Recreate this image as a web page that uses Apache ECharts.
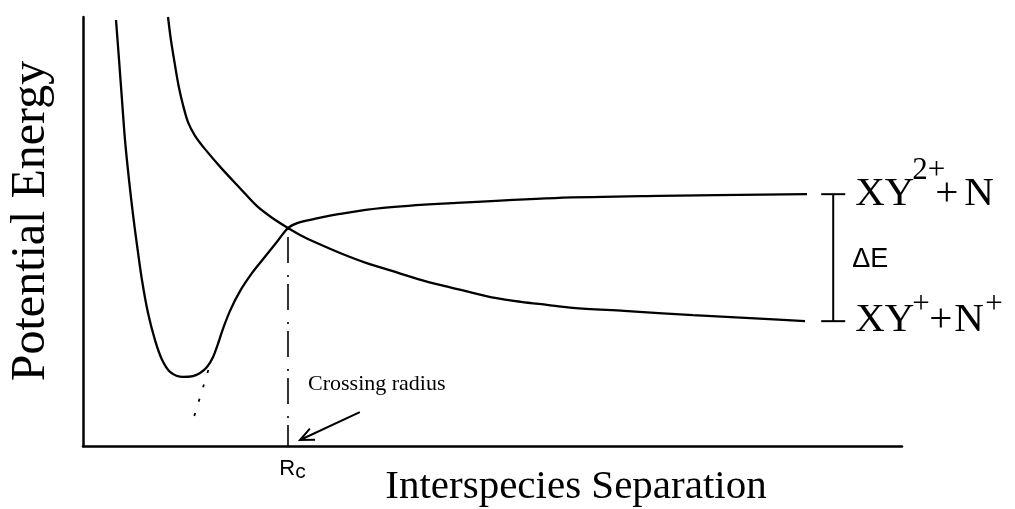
<!DOCTYPE html>
<html>
<head>
<meta charset="utf-8">
<script src="https://cdn.jsdelivr.net/npm/echarts@6/dist/echarts.min.js"></script>
<style>
  html, body { margin: 0; padding: 0; background: #fff; }
  #chart { width: 1015px; height: 509px; }
</style>
</head>
<body>
<div id="chart"></div>
<script>
// Potential energy curves against interspecies separation (arbitrary units, 0-10 on both axes)

// Bound dication state XY2+ + N: well, crossing, then flat asymptote
const boundState = [
  [0.403, 9.93], [0.440, 9.00], [0.476, 8.07], [0.513, 7.13], [0.562, 6.20],
  [0.611, 5.39], [0.659, 4.69], [0.720, 3.87], [0.794, 3.10], [0.879, 2.47],
  [0.965, 2.01], [1.062, 1.73], [1.221, 1.61], [1.343, 1.63], [1.429, 1.70],
  [1.514, 1.84], [1.587, 2.07], [1.648, 2.38], [1.709, 2.73], [1.795, 3.15],
  [1.917, 3.61], [2.063, 4.03], [2.222, 4.41], [2.369, 4.76], [2.503, 5.08],
  [2.625, 5.20], [2.821, 5.29], [3.138, 5.41], [3.663, 5.55], [4.505, 5.66],
  [5.763, 5.78], [7.033, 5.83], [8.840, 5.87]
];

// Repulsive charge-transfer state XY+ + N+
const repulsiveState = [
  [1.038, 10.0], [1.074, 9.46], [1.123, 8.88], [1.172, 8.35], [1.221, 7.95],
  [1.282, 7.55], [1.368, 7.23], [1.490, 6.92], [1.697, 6.46], [1.917, 6.01],
  [2.125, 5.59], [2.308, 5.32], [2.503, 5.08], [2.650, 4.92], [2.821, 4.76],
  [3.138, 4.50], [3.455, 4.27], [3.773, 4.08], [4.090, 3.89], [4.408, 3.73],
  [4.713, 3.59], [5.031, 3.45], [5.348, 3.36], [5.665, 3.29], [5.983, 3.22],
  [6.606, 3.15], [7.448, 3.05], [8.144, 2.98], [8.816, 2.91]
];

// Dotted continuation of the well's outer wall
const wellExtension = [[1.53, 1.77], [1.34, 0.58]];

// Crossing point of the two curves
const crossingRadius = 2.503;
const crossingEnergy = 5.08;

// Asymptotic energies of the two channels (ends of the ΔE bracket)
const upperAsymptote = 5.87;
const lowerAsymptote = 2.91;
const bracketX = 9.16;

// "Crossing radius" pointer: tail, tip
const pointer = [3.38, 0.79, 2.65, 0.14];

const axisTitleX = 'Interspecies Separation';
const axisTitleY = 'Potential Energy';
const pointerLabel = 'Crossing radius';

const SERIF = '"Liberation Serif", "Times New Roman", serif';
const SANS = '"Liberation Sans", Arial, sans-serif';
const INK = '#000';

const chart = echarts.init(document.getElementById('chart'), null, { renderer: 'canvas' });

const curveStyle = { color: INK, width: 2.3 };

function textEl(text, x, y, size, family, extra) {
  return {
    type: 'text',
    style: Object.assign({
      text: text, x: x, y: y, fontSize: size, fontFamily: family,
      fill: INK, align: 'left', verticalAlign: 'middle'
    }, extra || {})
  };
}

chart.setOption({
  animation: false,
  backgroundColor: '#fff',
  grid: { left: 83, right: 113, top: 17, bottom: 63 },
  xAxis: {
    type: 'value', min: 0, max: 10,
    axisLine: { show: true, lineStyle: { color: INK, width: 2.5 } },
    axisTick: { show: false },
    splitLine: { show: false },
    axisLabel: {
      show: true,
      customValues: [crossingRadius],
      margin: 9,
      formatter: function () { return '{r|R}{c|c}'; },
      rich: {
        r: { fontFamily: SANS, fontSize: 22, color: INK, padding: [0, 0, 0, 9] },
        c: { fontFamily: SANS, fontSize: 21, color: INK, padding: [7, 0, 0, 0] }
      }
    }
  },
  yAxis: {
    type: 'value', min: 0, max: 10,
    axisLine: { show: true, lineStyle: { color: INK, width: 2.5 } },
    axisTick: { show: false },
    splitLine: { show: false },
    axisLabel: { show: false }
  },
  graphic: [
    {
      type: 'text', x: 576, y: 487,
      style: { text: axisTitleX, fontFamily: SERIF, fontSize: 41, fill: INK, align: 'center', verticalAlign: 'middle' }
    },
    {
      type: 'text', x: 31, y: 221, rotation: Math.PI / 2,
      style: { text: axisTitleY, fontFamily: SERIF, fontSize: 48, fill: INK, align: 'center', verticalAlign: 'middle' }
    }
  ],
  series: [
    {
      name: 'XY2+ + N', type: 'line', data: boundState, smooth: 0.35,
      symbol: 'none', lineStyle: curveStyle, clip: false
    },
    {
      name: 'XY+ + N+', type: 'line', data: repulsiveState, smooth: 0.3,
      symbol: 'none', lineStyle: curveStyle, clip: false
    },
    {
      name: 'well extension', type: 'line', data: wellExtension,
      symbol: 'none', lineStyle: { color: INK, width: 1.8, type: [3, 12] }
    },
    {
      name: 'crossing drop', type: 'line',
      data: [[crossingRadius, crossingEnergy], [crossingRadius, 0]],
      symbol: 'none', lineStyle: { color: INK, width: 1.6, type: [2, 7, 26, 12] }
    },
    {
      name: 'pointer', type: 'custom', data: [pointer], silent: true,
      renderItem: function (params, api) {
        const tail = api.coord([api.value(0), api.value(1)]);
        const tip = api.coord([api.value(2), api.value(3)]);
        const ang = Math.atan2(tail[1] - tip[1], tail[0] - tip[0]);
        const len = 15, spread = 0.42;
        const p1 = [tip[0] + len * Math.cos(ang + spread), tip[1] + len * Math.sin(ang + spread)];
        const p2 = [tip[0] + len * Math.cos(ang - spread), tip[1] + len * Math.sin(ang - spread)];
        const st = { stroke: INK, lineWidth: 2, fill: null };
        return {
          type: 'group',
          children: [
            { type: 'line', shape: { x1: tail[0], y1: tail[1], x2: tip[0], y2: tip[1] }, style: st },
            { type: 'polyline', shape: { points: [p1, tip, p2] }, style: st },
            textEl(pointerLabel, tip[0] + 8, tail[1] - 28, 22, SERIF)
          ]
        };
      }
    },
    {
      name: 'ΔE bracket', type: 'custom', silent: true,
      data: [[bracketX, upperAsymptote, lowerAsymptote]],
      renderItem: function (params, api) {
        const top = api.coord([api.value(0), api.value(1)]);
        const bot = api.coord([api.value(0), api.value(2)]);
        const x = top[0];
        const st = { stroke: INK, lineWidth: 2 };
        const tx = x + 22;
        return {
          type: 'group',
          children: [
            { type: 'line', shape: { x1: x, y1: top[1], x2: x, y2: bot[1] }, style: st },
            { type: 'line', shape: { x1: x - 12, y1: top[1], x2: x + 12, y2: top[1] }, style: st },
            { type: 'line', shape: { x1: x - 12, y1: bot[1], x2: x + 12, y2: bot[1] }, style: st },
            // upper channel: XY2+ + N
            textEl('XY', tx, top[1], 41, SERIF),
            textEl('2+', tx + 57, top[1] - 23, 31, SERIF),
            textEl('+', tx + 80, top[1], 41, SERIF),
            textEl('N', tx + 109, top[1], 41, SERIF),
            // lower channel: XY+ + N+
            textEl('XY', tx, bot[1] - 1, 41, SERIF),
            textEl('+', tx + 57, bot[1] - 16, 31, SERIF),
            textEl('+', tx + 74, bot[1] - 1, 41, SERIF),
            textEl('N', tx + 99, bot[1] - 1, 41, SERIF),
            textEl('+', tx + 130, bot[1] - 16, 31, SERIF),
            // gap label
            textEl('ΔE', x + 19, (top[1] + bot[1]) / 2 + 2, 27, SANS)
          ]
        };
      }
    }
  ]
});
</script>
</body>
</html>
